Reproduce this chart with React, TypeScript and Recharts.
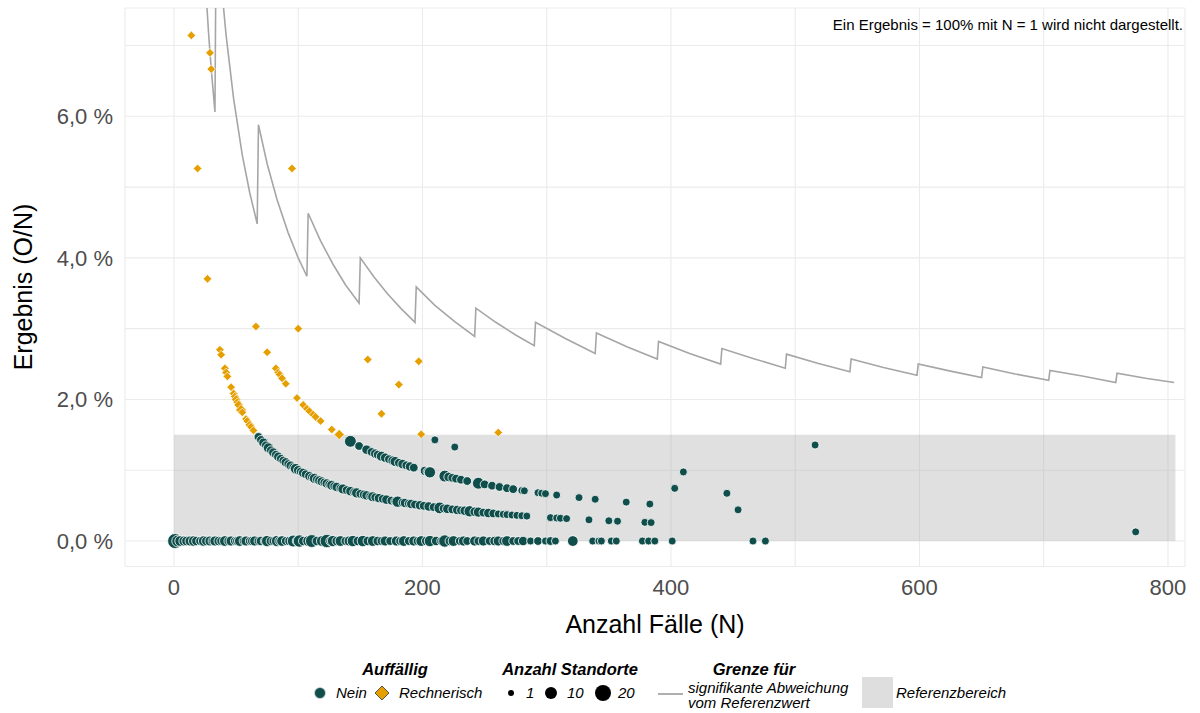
import React from "react";
import {
  ComposedChart,
  XAxis,
  YAxis,
  ZAxis,
  CartesianGrid,
  Scatter,
  Line,
  ReferenceArea,
  Label,
} from "recharts";

const FONT = '"Liberation Sans", Arial, Helvetica, sans-serif';
const GRUEN = "#0f4e4b";
const ORANGE = "#e69f00";
const GRENZE = "#a6a6a6";

const xTicks = [0, 100, 200, 300, 400, 500, 600, 700, 800];
const yTicks = [0, 1, 2, 3, 4, 5, 6, 7];

// Standorte ohne Ereignis: [N, Anzahl Standorte]
const nullEreignisse: [number, number][] = [
  [1, 14], [3, 7], [5, 5], [8, 4], [10, 3], [13, 4], [16, 5], [18, 3], [21, 2], [24, 5],
  [26, 3], [29, 4], [31, 2], [33, 4], [36, 3], [38, 2], [41, 5], [44, 3], [46, 4], [49, 2],
  [51, 3], [53, 5], [56, 2], [58, 4], [61, 2], [63, 3], [65, 4], [68, 2], [70, 3], [73, 2],
  [75, 6], [78, 3], [80, 2], [83, 6], [85, 3], [87, 5], [90, 2], [93, 3], [96, 7], [99, 3],
  [101, 8], [104, 3], [108, 5], [111, 9], [115, 3], [119, 5], [123, 10], [126, 3], [128, 6],
  [131, 3], [134, 5], [138, 2], [141, 4], [144, 6], [148, 3], [152, 6], [156, 3], [160, 5],
  [164, 3], [167, 2], [170, 4], [174, 2], [179, 4], [182, 2], [185, 5], [189, 2], [193, 4],
  [196, 2], [199, 5], [203, 3], [206, 6], [211, 3], [215, 2], [218, 8], [222, 3], [225, 5],
  [230, 2], [233, 4], [236, 2], [242, 4], [245, 2], [249, 4], [254, 2], [258, 3], [261, 4],
  [265, 2], [268, 5], [273, 2], [277, 2], [281, 3], [287, 1], [293, 2], [299, 1], [303, 2],
  [307, 1], [321, 5], [337, 1], [342, 1], [344, 1], [352, 1], [356, 1], [377, 1], [382, 1],
  [387, 1], [401, 1], [466, 1], [476, 1],
];

// Standorte mit einem Ereignis: [N, Anzahl Standorte]
const einEreignis: [number, number][] = [
  [68, 2], [70, 2], [72, 3], [74, 2], [76, 4], [78, 2], [80, 3], [82, 2], [84, 3], [86, 2],
  [88, 2], [90, 3], [92, 2], [94, 3], [96, 2], [98, 5], [100, 3], [102, 2], [104, 3], [106, 2],
  [109, 3], [111, 2], [113, 4], [115, 2], [117, 3], [119, 3], [121, 2], [123, 3], [125, 2],
  [127, 4], [129, 2], [131, 3], [134, 2], [136, 4], [139, 2], [142, 3], [145, 2], [147, 4],
  [150, 2], [153, 3], [155, 3], [158, 2], [160, 4], [162, 2], [165, 3], [168, 2], [171, 3],
  [175, 2], [178, 2], [180, 6], [184, 2], [186, 3], [189, 2], [191, 3], [194, 2], [198, 3],
  [201, 2], [205, 3], [209, 2], [214, 7], [217, 2], [220, 3], [224, 2], [228, 3], [231, 2],
  [234, 3], [238, 6], [242, 3], [245, 4], [249, 2], [253, 3], [257, 2], [261, 1], [265, 1],
  [268, 1], [272, 1], [276, 1], [280, 1], [284, 1], [303, 1], [308, 1], [311, 1], [316, 1],
  [334, 1], [350, 1], [357, 1], [379, 1], [384, 1], [774, 1],
];

// Standorte mit zwei Ereignissen: [N, Anzahl Standorte]
const zweiEreignisse: [number, number][] = [
  [142, 7], [149, 2], [155, 3], [159, 2], [162, 3], [164, 2], [167, 4], [170, 3], [173, 2],
  [176, 3], [178, 4], [181, 2], [184, 3], [187, 2], [190, 3], [193, 2], [202, 3], [204, 2],
  [206, 6], [218, 7], [221, 3], [224, 2], [227, 2], [231, 2], [236, 2], [245, 7], [250, 2],
  [256, 2], [262, 2], [268, 2], [273, 2], [280, 1], [282, 1], [293, 1], [296, 1], [299, 1],
  [308, 1], [326, 1], [339, 1], [364, 1], [383, 1], [454, 1],
];

// weitere unauffällige Standorte: [N, O, Anzahl Standorte]
const weitereNein: [number, number, number][] = [
  [210, 3, 1], [226, 3, 1], [403, 3, 1], [410, 4, 1], [445, 3, 1], [516, 7, 1],
];

// rechnerisch auffällige Standorte: [N, O, Anzahl Standorte]
const rechnerisch: [number, number, number][] = [
  [14, 1, 1], [19, 1, 1], [27, 1, 1], [29, 2, 1], [30, 2, 1], [37, 1, 1], [38, 1, 1],
  [41, 1, 1], [42, 1, 1], [43, 1, 1], [46, 1, 1], [48, 1, 1], [49, 1, 1], [50, 1, 2],
  [51, 1, 1], [52, 1, 2], [54, 1, 4], [55, 1, 1], [58, 1, 1], [59, 1, 1], [61, 1, 2],
  [62, 1, 1], [64, 1, 1], [66, 2, 1], [75, 2, 1], [82, 2, 1], [84, 2, 1], [85, 2, 1],
  [87, 2, 1], [90, 2, 1], [95, 5, 1], [99, 2, 1], [100, 3, 1], [104, 2, 1], [107, 2, 1],
  [109, 2, 1], [112, 2, 1], [114, 2, 1], [118, 2, 1], [127, 2, 1], [133, 2, 3], [156, 4, 1],
  [167, 3, 1], [181, 4, 1], [197, 5, 1], [199, 3, 1], [261, 4, 1],
];

// Grenze für signifikante Abweichung: [N, Ergebnis in %]
const grenze: [number, number][] = [
  [26, 7.69], [28, 7.14], [30, 6.67], [33, 6.06],
  [34, 8.82], [38, 7.89], [42, 7.14], [48, 6.25], [55, 5.45], [61, 4.92], [67, 4.48],
  [68, 5.88], [75, 5.33], [83, 4.82], [92, 4.35], [100, 4.0], [107, 3.74],
  [108, 4.63], [118, 4.24], [128, 3.91], [138, 3.62], [149, 3.36],
  [150, 4.0], [161, 3.73], [172, 3.49], [183, 3.28], [194, 3.09],
  [195, 3.59], [210, 3.33], [226, 3.1], [242, 2.89],
  [243, 3.29], [259, 3.09], [275, 2.91], [290, 2.76],
  [291, 3.09], [315, 2.86], [339, 2.65],
  [340, 2.94], [365, 2.74], [389, 2.57],
  [390, 2.82], [415, 2.65], [440, 2.5],
  [441, 2.72], [466, 2.58], [492, 2.44],
  [493, 2.64], [518, 2.51], [544, 2.39],
  [545, 2.57], [571, 2.45], [598, 2.34],
  [599, 2.5], [625, 2.4], [650, 2.31],
  [651, 2.46], [677, 2.36], [704, 2.27],
  [705, 2.41], [731, 2.33], [758, 2.24],
  [759, 2.37], [782, 2.3], [805, 2.24],
];

const punkt = (n: number, o: number, standorte: number) => ({ n, pct: (o / n) * 100, standorte });

const neinDaten = [
  ...nullEreignisse.map(([n, s]) => punkt(n, 0, s)),
  ...einEreignis.map(([n, s]) => punkt(n, 1, s)),
  ...zweiEreignisse.map(([n, s]) => punkt(n, 2, s)),
  ...weitereNein.map(([n, o, s]) => punkt(n, o, s)),
];
const rechnerischDaten = rechnerisch.map(([n, o, s]) => punkt(n, o, s));
const grenzeDaten = grenze.map(([n, pct]) => ({ n, pct }));

const Kreis = (props: any) => {
  const { cx, cy, size } = props;
  const r = Math.sqrt((size ?? 50) / Math.PI);
  return <circle cx={cx} cy={cy} r={r} fill={GRUEN} stroke="#ffffff" strokeWidth={0.8} />;
};

const Raute = (props: any) => {
  const { cx, cy, size } = props;
  const h = Math.sqrt((size ?? 50) / Math.PI) * 1.08;
  return (
    <polygon
      points={`${cx},${cy - h} ${cx + h},${cy} ${cx},${cy + h} ${cx - h},${cy}`}
      fill={ORANGE}
      stroke="#ffffff"
      strokeWidth={0.7}
    />
  );
};

const formatY = (v: number) => (v % 2 === 0 ? `${v.toFixed(1).replace(".", ",")} %` : "");
const formatX = (v: number) => (v % 200 === 0 ? String(v) : "");

const legendTitle = { fontFamily: FONT, fontSize: 16.5, fontWeight: 700, fontStyle: "italic" as const };
const legendText = { fontFamily: FONT, fontSize: 15, fontStyle: "italic" as const };

export default function App() {
  return (
    <div style={{ position: "absolute", left: 0, top: 0, width: 1200, height: 713, background: "#fff" }}>
      <ComposedChart width={1200} height={640} margin={{ top: 8, right: 15, bottom: 0, left: 0 }}>
        <CartesianGrid stroke="#ebebeb" strokeWidth={1.1} />
        <XAxis
          dataKey="n"
          type="number"
          domain={[-39.4, 813.7]}
          ticks={xTicks}
          interval={0}
          allowDataOverflow
          tickFormatter={formatX}
          tickLine={false}
          axisLine={false}
          tickSize={0}
          tickMargin={13}
          height={73.5}
          tick={{ fontSize: 22, fill: "#4d4d4d", fontFamily: FONT }}
        >
          <Label
            value="Anzahl Fälle (N)"
            position="insideBottom"
            offset={7}
            style={{ fontSize: 25, fill: "#000", fontFamily: FONT }}
          />
        </XAxis>
        <YAxis
          dataKey="pct"
          type="number"
          domain={[-0.36, 7.53]}
          ticks={yTicks}
          interval={0}
          allowDataOverflow
          tickFormatter={formatY}
          tickLine={false}
          axisLine={false}
          tickSize={0}
          tickMargin={12}
          width={125}
          tick={{ fontSize: 22, fill: "#4d4d4d", fontFamily: FONT }}
        >
          <Label
            content={() => (
              <text
                x={32}
                y={287}
                transform="rotate(-90 32 287)"
                textAnchor="middle"
                style={{ fontSize: 25, fill: "#000", fontFamily: FONT }}
              >
                Ergebnis (O/N)
              </text>
            )}
          />
        </YAxis>
        <ZAxis dataKey="standorte" type="number" domain={[1, 20]} range={[50, 240]} />
        <ReferenceArea x1={0} x2={806} y1={0} y2={1.5} fill="#a6a6a6" fillOpacity={0.35} stroke="none" />
        <Line
          data={grenzeDaten}
          dataKey="pct"
          type="linear"
          stroke={GRENZE}
          strokeWidth={1.6}
          dot={false}
          activeDot={false}
          isAnimationActive={false}
        />
        <Scatter data={neinDaten} shape={<Kreis />} isAnimationActive={false} />
        <Scatter data={rechnerischDaten} shape={<Raute />} isAnimationActive={false} />
      </ComposedChart>

      <svg
        width={1200}
        height={713}
        style={{ position: "absolute", left: 0, top: 0, pointerEvents: "none" }}
      >
        <text x={1183} y={30} textAnchor="end" style={{ fontFamily: FONT, fontSize: 15, fill: "#000" }}>
          Ein Ergebnis = 100% mit N = 1 wird nicht dargestellt.
        </text>

        {/* Auffällig */}
        <text x={395} y={675} textAnchor="middle" style={legendTitle}>Auffällig</text>
        <circle cx={320} cy={693} r={5.5} fill={GRUEN} stroke="#cfd8d7" strokeWidth={0.8} />
        <text x={336} y={698} style={legendText}>Nein</text>
        <polygon points="382,686 389,693 382,700 375,693" fill={ORANGE} stroke="#333" strokeWidth={0.8} />
        <text x={399} y={698} style={legendText}>Rechnerisch</text>

        {/* Anzahl Standorte */}
        <text x={570} y={675} textAnchor="middle" style={legendTitle}>Anzahl Standorte</text>
        <circle cx={511} cy={693} r={3} fill="#000" />
        <text x={526} y={698} style={legendText}>1</text>
        <circle cx={551} cy={693} r={6} fill="#000" />
        <text x={567} y={698} style={legendText}>10</text>
        <circle cx={603} cy={693} r={8} fill="#000" />
        <text x={618} y={698} style={legendText}>20</text>

        {/* Grenze */}
        <text x={754} y={675} textAnchor="middle" style={legendTitle}>Grenze für</text>
        <line x1={658} y1={694} x2={683} y2={694} stroke={GRENZE} strokeWidth={1.8} />
        <text x={688} y={693} style={legendText}>signifikante Abweichung</text>
        <text x={688} y={708} style={legendText}>vom Referenzwert</text>

        {/* Referenzbereich */}
        <rect x={862} y={677} width={31} height={31} fill="#dedede" />
        <text x={896} y={698} style={legendText}>Referenzbereich</text>
      </svg>
    </div>
  );
}
